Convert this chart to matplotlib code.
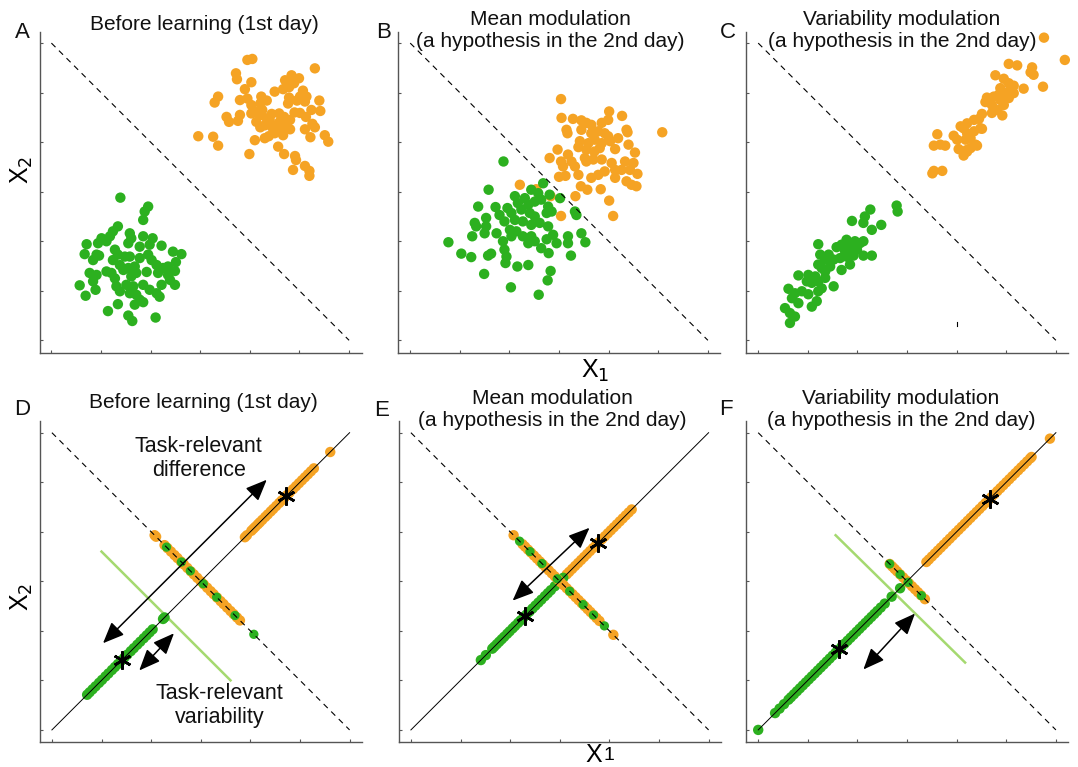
import numpy as np
import matplotlib
matplotlib.use('Agg')
import matplotlib.pyplot as plt
from matplotlib.patches import FancyArrowPatch

plt.rcParams['font.family'] = ['Liberation Sans', 'DejaVu Sans']

W, H = 1078, 767
ORANGE = '#f5a324'
GREEN = '#2cb01f'
LIGHT_GREEN = '#a5d970'
AXIS_GRAY = '#555555'
TICKS = [0, 1, 2, 3, 4, 5, 6]
DOT = 56

# ---------------- top row: 2-D clouds (x1, x2) ----------------
A_ORANGE = [
    (3.95, 5.66), (4.05, 5.68), (3.72, 5.39), (3.74, 5.27), (5.31, 5.49), (4.03, 5.21),
    (4.84, 5.35), (4.99, 5.29), (4.71, 5.25), (4.89, 5.19), (4.79, 5.11), (3.36, 4.92),
    (3.29, 4.80), (3.90, 5.07), (3.80, 4.85), (3.95, 4.88), (4.03, 4.75), (4.23, 4.92),
    (4.34, 4.84), (4.21, 4.78), (4.50, 5.02), (4.67, 5.07), (5.07, 5.04), (5.01, 4.92),
    (5.14, 4.92), (5.11, 4.82), (4.79, 4.90), (4.95, 4.84), (4.77, 4.78), (5.40, 4.84),
    (5.42, 4.63), (5.24, 4.65), (3.53, 4.51), (3.58, 4.41), (3.80, 4.55), (3.76, 4.43),
    (4.03, 4.58), (4.13, 4.61), (4.23, 4.55), (4.34, 4.48), (4.44, 4.57), (4.13, 4.41),
    (4.30, 4.34), (4.21, 4.30), (4.59, 4.58), (4.69, 4.51), (4.81, 4.45), (4.60, 4.41),
    (4.74, 4.34), (4.57, 4.28), (4.67, 4.24), (4.81, 4.26), (4.50, 4.18), (4.67, 4.14),
    (5.01, 4.59), (5.13, 4.51), (5.26, 4.37), (5.31, 4.30), (5.11, 4.26), (5.22, 4.10),
    (2.96, 4.12), (3.26, 4.11), (3.36, 3.93), (4.10, 4.04), (4.30, 4.08), (4.38, 4.12),
    (4.57, 3.91), (4.69, 3.76), (3.99, 3.76), (4.91, 3.72), (4.93, 3.64), (5.51, 4.14),
    (5.58, 4.01), (4.87, 3.44), (5.11, 3.52), (5.20, 3.42), (5.20, 3.32), (4.40, 4.45),
    (4.55, 4.35), (4.65, 4.45), (4.45, 4.30), (4.90, 4.60), (4.25, 4.65),
]
A_GREEN = [
    (1.39, 2.88), (1.95, 2.70), (1.88, 2.60), (1.85, 2.43), (1.34, 2.30), (1.24, 2.20),
    (1.58, 2.16), (1.61, 2.06), (1.55, 1.96), (1.01, 2.06), (0.94, 1.96), (1.11, 2.00),
    (1.18, 2.10), (1.85, 2.10), (2.04, 2.06), (1.98, 1.93), (1.78, 1.89), (0.71, 1.94),
    (0.67, 1.74), (0.91, 1.73), (0.84, 1.62), (0.96, 1.71), (1.28, 1.83), (1.34, 1.73),
    (1.48, 1.69), (1.58, 1.69), (1.24, 1.62), (1.78, 1.66), (1.95, 1.73), (2.02, 1.62),
    (2.22, 1.91), (2.45, 1.79), (2.62, 1.74), (2.51, 1.58), (2.35, 1.49), (2.49, 1.40),
    (2.12, 1.52), (2.25, 1.46), (2.15, 1.36), (2.35, 1.32), (2.39, 1.22), (0.77, 1.36),
    (0.91, 1.32), (1.11, 1.39), (1.21, 1.36), (1.28, 1.25), (1.38, 1.52), (1.45, 1.42),
    (1.55, 1.46), (1.68, 1.49), (1.71, 1.36), (1.61, 1.29), (1.92, 1.38), (0.57, 1.11),
    (0.84, 1.19), (0.89, 1.02), (0.69, 0.90), (1.31, 1.09), (1.38, 0.99), (1.51, 1.12),
    (1.65, 1.09), (1.58, 0.95), (1.71, 0.92), (1.85, 1.12), (1.98, 1.02), (2.12, 0.95),
    (2.22, 1.12), (2.49, 1.12), (1.78, 0.82), (1.85, 0.77), (1.68, 0.72), (2.18, 0.88),
    (1.34, 0.73), (1.14, 0.59), (1.55, 0.50), (1.63, 0.39), (2.10, 0.46),
]
B_ORANGE = [
    (3.04, 4.87), (3.05, 4.49), (3.28, 4.47), (3.45, 4.44), (3.55, 4.39), (3.65, 4.35),
    (3.86, 4.39), (4.01, 4.62), (3.99, 4.45), (4.27, 4.53), (3.15, 4.25), (3.17, 4.18),
    (3.45, 4.25), (3.65, 4.18), (3.79, 4.22), (3.92, 4.18), (3.99, 4.12), (4.36, 4.25),
    (4.38, 4.20), (4.19, 4.08), (3.42, 4.02), (3.59, 3.98), (3.72, 4.05), (3.86, 3.98),
    (4.03, 4.02), (4.13, 3.86), (4.40, 3.95), (4.53, 3.79), (2.97, 3.85), (2.81, 3.68),
    (3.18, 3.75), (3.39, 3.90), (3.55, 3.85), (3.71, 3.81), (3.82, 3.88), (3.04, 3.61),
    (3.08, 3.51), (3.25, 3.61), (3.32, 3.51), (3.52, 3.68), (3.55, 3.61), (3.69, 3.65),
    (3.86, 3.65), (4.06, 3.58), (4.33, 3.61), (4.50, 3.58), (3.00, 3.30), (3.13, 3.32),
    (3.39, 3.34), (3.65, 3.28), (3.79, 3.34), (3.92, 3.41), (4.13, 3.44), (4.26, 3.44),
    (4.13, 3.28), (4.43, 3.44), (4.58, 3.36), (4.36, 3.21), (4.56, 3.11), (4.46, 3.14),
    (3.44, 3.11), (3.57, 3.04), (3.84, 3.05), (2.21, 3.14), (2.54, 3.05), (2.83, 2.91),
    (3.33, 2.91), (4.01, 2.82), (3.04, 2.51), (4.09, 2.51), (5.08, 4.20),
]
B_GREEN = [
    (1.88, 3.61), (1.58, 3.04), (1.37, 2.70), (2.68, 3.17), (2.44, 3.04), (2.58, 2.97),
    (2.11, 2.91), (2.31, 2.87), (2.81, 2.94), (3.02, 2.87), (1.72, 2.69), (1.96, 2.67),
    (2.17, 2.77), (2.38, 2.74), (2.51, 2.80), (2.64, 2.84), (2.78, 2.70), (2.85, 2.60),
    (1.80, 2.53), (2.04, 2.57), (2.24, 2.64), (2.41, 2.57), (2.51, 2.50), (2.75, 2.57),
    (1.53, 2.47), (1.30, 2.37), (1.33, 2.30), (1.53, 2.30), (1.50, 2.16), (1.74, 2.16),
    (1.90, 2.40), (2.11, 2.43), (2.27, 2.40), (2.44, 2.33), (2.61, 2.37), (2.78, 2.30),
    (2.01, 2.23), (2.14, 2.20), (2.27, 2.10), (2.44, 2.10), (2.04, 2.10), (2.38, 1.96),
    (2.51, 2.00), (2.75, 2.04), (2.88, 2.13), (2.95, 1.96), (2.64, 1.86), (2.79, 1.76),
    (3.18, 2.10), (3.18, 1.96), (3.45, 2.16), (3.53, 1.98), (3.32, 2.60), (3.35, 2.53),
    (1.25, 2.10), (0.77, 1.98), (1.03, 1.75), (1.23, 1.68), (1.57, 1.71), (1.63, 1.75),
    (1.87, 2.00), (1.90, 1.83), (1.94, 1.69), (1.92, 1.56), (2.16, 1.49), (2.38, 1.52),
    (3.24, 1.71), (1.49, 1.34), (2.83, 1.40), (2.77, 1.21), (2.03, 1.07), (2.59, 0.92),
]
C_ORANGE = [
    (5.76, 6.11), (6.18, 5.66), (5.05, 5.58), (5.22, 5.55), (5.52, 5.51), (5.49, 5.41),
    (5.55, 5.36), (4.78, 5.35), (4.95, 5.28), (5.05, 5.19), (5.15, 5.14), (5.08, 5.06),
    (5.35, 5.08), (5.74, 5.12), (4.88, 5.09), (4.98, 4.99), (4.85, 4.96), (4.75, 4.92),
    (4.61, 4.90), (4.58, 4.81), (4.71, 4.75), (4.88, 4.85), (5.02, 4.92), (4.95, 4.75),
    (4.82, 4.65), (4.71, 4.59), (4.92, 4.54), (5.05, 4.89), (5.15, 4.99), (4.51, 4.57),
    (4.45, 4.47), (4.35, 4.45), (4.21, 4.38), (4.14, 4.28), (4.08, 4.32), (4.21, 4.18),
    (4.35, 4.22), (4.48, 4.28), (4.28, 4.08), (4.18, 4.05), (4.41, 3.93), (4.51, 4.27),
    (3.94, 4.13), (4.01, 4.05), (3.61, 4.16), (3.54, 3.93), (3.67, 3.95), (3.77, 3.93),
    (4.04, 3.86), (4.20, 3.84), (4.28, 3.88), (4.38, 3.95), (4.14, 3.73), (4.21, 3.81),
    (3.54, 3.42), (3.51, 3.37), (3.71, 3.42),
]
C_GREEN = [
    (2.79, 2.72), (2.81, 2.60), (2.26, 2.64), (2.15, 2.50), (2.12, 2.37), (2.29, 2.23),
    (2.48, 2.33), (1.89, 2.41), (1.78, 2.03), (1.68, 1.93), (1.58, 1.88), (1.85, 1.90),
    (1.95, 2.00), (2.05, 1.96), (2.12, 2.00), (1.99, 1.83), (1.75, 1.80), (1.89, 1.76),
    (1.21, 1.94), (1.25, 1.73), (1.42, 1.73), (1.35, 1.63), (1.52, 1.63), (1.65, 1.66),
    (1.78, 1.69), (1.92, 1.71), (2.12, 1.71), (2.29, 1.71), (1.85, 1.53), (1.68, 1.42),
    (1.21, 1.53), (1.28, 1.46), (1.35, 1.39), (1.45, 1.49), (1.01, 1.32), (0.81, 1.31),
    (1.15, 1.29), (1.08, 1.16), (1.21, 1.19), (1.35, 1.26), (1.52, 1.09), (1.28, 1.05),
    (0.98, 1.19), (0.61, 1.04), (0.74, 0.95), (0.88, 0.99), (1.01, 0.93), (1.21, 0.99),
    (1.18, 0.79), (1.08, 0.68), (0.81, 0.75), (0.68, 0.85), (0.54, 0.65), (0.64, 0.55),
    (0.74, 0.48), (0.64, 0.35),
]

# ---------------- bottom row: projections ----------------
# position t on the diagonal -> point (t, t); position s on the boundary -> (s, 6 - s)
D_ORANGE_DIAG = [3.89, 3.93, 4.02, 4.06, 4.10, 4.15, 4.19, 4.24, 4.30, 4.35, 4.41, 4.46, 4.52,
                 4.58, 4.63, 4.69, 4.74, 4.79, 4.86, 4.92, 4.98, 5.04, 5.10, 5.16, 5.22, 5.28, 5.61]
D_GREEN_DIAG = [0.71, 0.76, 0.82, 0.88, 0.95, 1.01, 1.08, 1.14, 1.21, 1.27, 1.33, 1.40, 1.46,
                1.52, 1.59, 1.65, 1.72, 1.78, 1.85, 1.91, 1.97, 2.03, 2.24, 2.27]
D_ORANGE_ANTI = [2.07, 2.10, 2.27, 2.33, 2.40, 2.47, 2.53, 2.60, 2.66, 2.73, 2.80, 2.86, 2.93,
                 3.00, 3.06, 3.13, 3.20, 3.26, 3.33, 3.40, 3.46, 3.53, 3.60, 3.66, 3.73, 3.79]
D_GREEN_ANTI = [2.31, 2.61, 2.79, 3.05, 3.32, 3.69, 4.07]

E_ORANGE_DIAG = [3.14, 3.19, 3.25, 3.31, 3.37, 3.43, 3.49, 3.55, 3.61, 3.67, 3.73, 3.79, 3.85,
                 3.91, 3.97, 4.03, 4.09, 4.15, 4.21, 4.27, 4.33, 4.39, 4.45]
E_GREEN_DIAG = [1.41, 1.51, 1.64, 1.68, 1.73, 1.78, 1.83, 1.88, 1.94, 1.99, 2.05, 2.10, 2.16,
                2.21, 2.27, 2.33, 2.39, 2.45, 2.51, 2.57, 2.63, 2.70, 2.76, 2.82, 2.90, 2.96,
                3.02, 3.07]
E_ORANGE_ANTI = [2.07, 2.25, 2.30, 2.36, 2.42, 2.48, 2.54, 2.60, 2.66, 2.72, 2.78, 2.84, 2.90,
                 2.96, 3.02, 3.08, 3.14, 3.20, 3.26, 3.32, 3.38, 3.44, 3.50, 3.56, 3.62, 3.68,
                 3.74, 3.80, 4.08]
E_GREEN_ANTI = [2.19, 2.40, 2.64, 2.95, 3.20, 3.47, 3.68, 3.90]

F_ORANGE_DIAG = [3.39, 3.44, 3.50, 3.56, 3.62, 3.68, 3.74, 3.80, 3.86, 3.92, 3.98, 4.04, 4.10,
                 4.16, 4.22, 4.28, 4.34, 4.40, 4.46, 4.52, 4.58, 4.64, 4.70, 4.76, 4.82, 4.88,
                 4.94, 5.00, 5.06, 5.12, 5.18, 5.24, 5.30, 5.36, 5.42, 5.48, 5.51, 5.88]
F_GREEN_DIAG = [0.00, 0.34, 0.43, 0.52, 0.61, 0.66, 0.72, 0.78, 0.84, 0.90, 0.96, 1.02, 1.08,
                1.14, 1.20, 1.26, 1.32, 1.38, 1.44, 1.50, 1.56, 1.62, 1.68, 1.74, 1.80, 1.86,
                1.92, 1.98, 2.04, 2.10, 2.16, 2.22, 2.28, 2.34, 2.40, 2.47, 2.55, 2.69, 2.86]
F_ORANGE_ANTI = [2.65, 2.70, 2.75, 2.80, 2.86, 2.92, 2.98, 3.04, 3.10, 3.16, 3.22, 3.28, 3.36]
F_GREEN_ANTI = [2.65, 2.86, 3.02, 3.29]

# class means (asterisks), double arrows and light-green threshold lines
D_MEANS = [(1.42, 1.41), (4.72, 4.72)]
E_MEANS = [(2.29, 2.29), (3.77, 3.77)]
F_MEANS = [(1.63, 1.63), (4.67, 4.67)]
D_ARROWS = [((1.03, 1.75), (4.33, 5.05)), ((1.76, 1.20), (2.46, 1.95))]
E_ARROWS = [((2.05, 2.61), (3.60, 4.08))]
F_ARROWS = [((2.12, 1.22), (3.16, 2.35))]
D_THRESHOLD = [(1.00, 3.60), (3.60, 1.00)]
F_THRESHOLD = [(1.56, 3.93), (4.17, 1.36)]

BOUNDARY_X, BOUNDARY_Y = [0, 6], [6, 0]
DIAG = [0, 6]


def fig_xy(px, py):
    return px / W, 1 - py / H


def style_axes(ax):
    ax.set_xlim(-0.24, 6.25)
    ax.set_ylim(-0.25, 6.23)
    ax.set_xticks(TICKS)
    ax.set_yticks(TICKS)
    ax.set_xticklabels([])
    ax.set_yticklabels([])
    ax.tick_params(direction='in', length=2.5, width=0.8, color=AXIS_GRAY)
    for side in ['top', 'right']:
        ax.spines[side].set_visible(False)
    for side in ['left', 'bottom']:
        ax.spines[side].set_color(AXIS_GRAY)
        ax.spines[side].set_linewidth(1.0)


def draw_boundary(ax):
    ax.plot(BOUNDARY_X, BOUNDARY_Y, color='black', lw=0.8,
            linestyle=(0, (5.2, 4.4)), zorder=4)


def draw_cloud(ax, orange, green):
    o = np.array(orange)
    g = np.array(green)
    ax.scatter(o[:, 0], o[:, 1], s=DOT, color=ORANGE, edgecolors='none', zorder=2, clip_on=False)
    ax.scatter(g[:, 0], g[:, 1], s=DOT, color=GREEN, edgecolors='none', zorder=2, clip_on=False)
    draw_boundary(ax)


def draw_projection(ax, o_diag, g_diag, o_anti, g_anti, means, arrows, threshold=None):
    od, gd = np.array(o_diag), np.array(g_diag)
    oa, ga = np.array(o_anti), np.array(g_anti)
    if threshold is not None:
        (x0, y0), (x1, y1) = threshold
        ax.plot([x0, x1], [y0, y1], color=LIGHT_GREEN, lw=1.8, zorder=1)
    ax.scatter(od, od, s=DOT, color=ORANGE, edgecolors='none', zorder=2)
    ax.scatter(gd, gd, s=DOT, color=GREEN, edgecolors='none', zorder=2)
    ax.scatter(oa, 6 - oa, s=DOT, color=ORANGE, edgecolors='none', zorder=2)
    ax.scatter(ga, 6 - ga, s=DOT * 0.8, color=GREEN, edgecolors='none', zorder=3)
    draw_boundary(ax)
    ax.plot(DIAG, DIAG, color='black', lw=0.7, zorder=4)
    m = np.array(means)
    ax.plot(m[:, 0], m[:, 1], linestyle='none', marker=(6, 2, 0), markersize=13,
            markeredgewidth=1.9, color='black', zorder=6)
    for start, end in arrows:
        arr = FancyArrowPatch(start, end, arrowstyle='<|-|>,head_length=1.0,head_width=0.42',
                              mutation_scale=13, color='black', lw=1.1,
                              shrinkA=0, shrinkB=0, zorder=5)
        ax.add_patch(arr)


fig = plt.figure(figsize=(W / 100, H / 100), dpi=100)
ax_w, ax_h = 322 / W, 321 / H
lefts = [39.5 / W, 398.3 / W, 746.3 / W]
bottom_top, bottom_low = 1 - 352.7 / H, 1 - 742.3 / H

axes_top = [fig.add_axes([l, bottom_top, ax_w, ax_h]) for l in lefts]
axes_low = [fig.add_axes([l, bottom_low, ax_w, ax_h]) for l in [40 / W, 399 / W, 746.3 / W]]
for ax in axes_top + axes_low:
    style_axes(ax)

draw_cloud(axes_top[0], A_ORANGE, A_GREEN)
draw_cloud(axes_top[1], B_ORANGE, B_GREEN)
draw_cloud(axes_top[2], C_ORANGE, C_GREEN)
axes_top[2].plot([4.0, 4.0], [0.28, 0.36], color='black', lw=0.8)

draw_projection(axes_low[0], D_ORANGE_DIAG, D_GREEN_DIAG, D_ORANGE_ANTI, D_GREEN_ANTI,
                D_MEANS, D_ARROWS, D_THRESHOLD)
draw_projection(axes_low[1], E_ORANGE_DIAG, E_GREEN_DIAG, E_ORANGE_ANTI, E_GREEN_ANTI,
                E_MEANS, E_ARROWS)
draw_projection(axes_low[2], F_ORANGE_DIAG, F_GREEN_DIAG, F_ORANGE_ANTI, F_GREEN_ANTI,
                F_MEANS, F_ARROWS, F_THRESHOLD)

axes_low[0].text(2.96, 5.48, 'Task-relevant\ndifference', ha='center', va='center',
                 fontsize=15.5, color='#111111', linespacing=1.2, zorder=7)
axes_low[0].text(3.38, 0.49, 'Task-relevant\nvariability', ha='center', va='center',
                 fontsize=15.5, color='#111111', linespacing=1.2, zorder=7)

# titles
title1 = 'Before learning (1st day)'
title2 = 'Mean modulation\n(a hypothesis in the 2nd day)'
title3 = 'Variability modulation\n(a hypothesis in the 2nd day)'
for (px, py), txt in [((204, 24), title1), ((550, 30.5), title2), ((902, 30.8), title3),
                      ((203, 402.7), title1), ((552, 409), title2), ((901, 409), title3)]:
    fig.text(*fig_xy(px, py), txt, ha='center', va='center', fontsize=15,
             color='#111111', linespacing=1.2)

# panel letters
for (px, py), letter in [((22.7, 33), 'A'), ((384, 33), 'B'), ((727.5, 33), 'C'),
                         ((22, 410), 'D'), ((382, 411), 'E'), ((726, 410), 'F')]:
    fig.text(*fig_xy(px, py), letter, ha='center', va='center', fontsize=16, color='#111111')

# axis labels
fig.text(*fig_xy(21.7, 170), 'X$_2$', ha='center', va='center', fontsize=18, rotation=90)
fig.text(*fig_xy(21.7, 597), 'X$_2$', ha='center', va='center', fontsize=18, rotation=90)
fig.text(*fig_xy(595, 371), 'X$_1$', ha='center', va='center', fontsize=18)
fig.text(*fig_xy(594, 755), 'X', ha='center', va='center', fontsize=18)
fig.text(*fig_xy(609, 756), '1', ha='center', va='center', fontsize=14)

fig.savefig('out.png', dpi=100)
